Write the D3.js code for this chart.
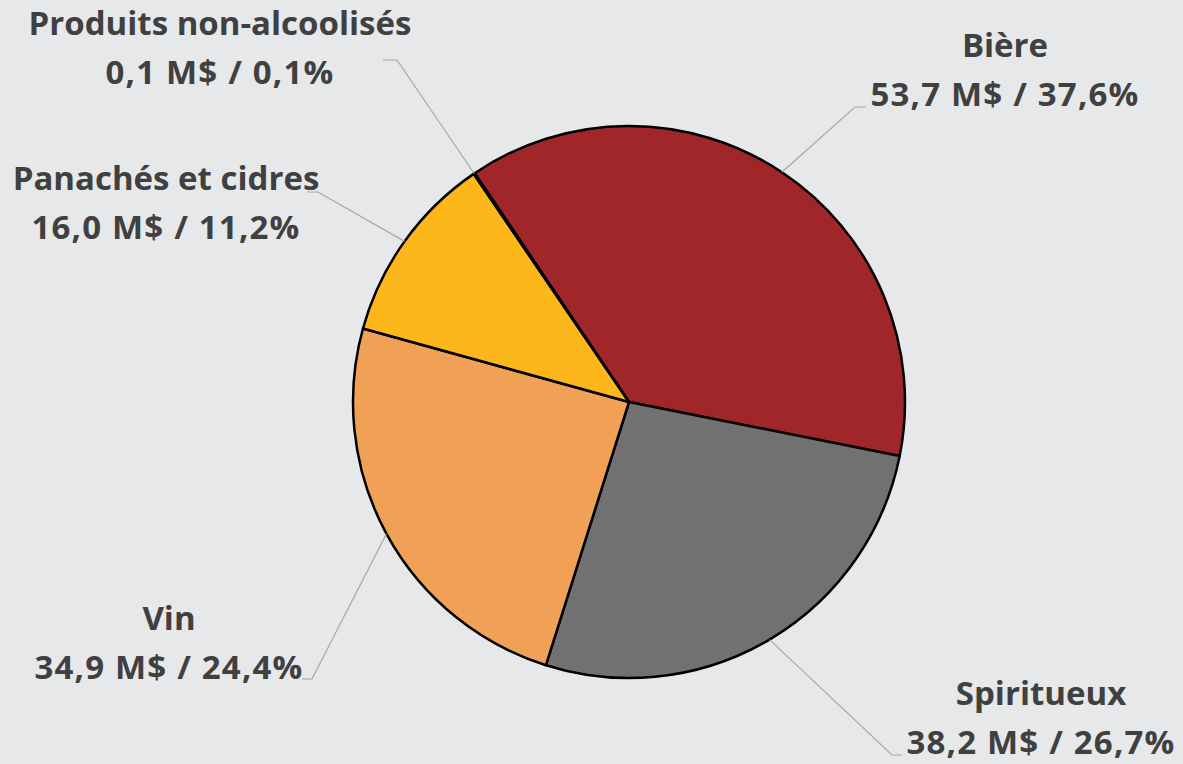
<!DOCTYPE html>
<html>
<head>
<meta charset="utf-8">
<script src="https://cdn.jsdelivr.net/npm/d3@7"></script>
<style>
  body { margin: 0; background: #e7e8ea; }
  svg { display: block; }
  .label { font-family: "Open Sans", sans-serif; font-weight: bold; font-size: 33px; fill: #404040; }
  .label .val { letter-spacing: 1.2px; }
  .leader { fill: none; stroke: #a6a6a6; stroke-width: 1.2; }
</style>
</head>
<body>
<script>
var w = 1183;
var h = 764;

// data
var categories = ["Bière", "Spiritueux", "Vin", "Panachés et cidres", "Produits non-alcoolisés"];
var values = [53.7, 38.2, 34.9, 16.0, 0.1];
var percents = ["37,6%", "26,7%", "24,4%", "11,2%", "0,1%"];
var valueLabels = ["53,7 M$", "38,2 M$", "34,9 M$", "16,0 M$", "0,1 M$"];
var colors = ["#a0262a", "#707170", "#f0a155", "#fdb71a", "#c9c9c9"];

// label layout: centre x, baseline of first line, leader elbow (ex, ey) and end x (tx)
var labelPos = [
    { x: 1005, y: 57,  ex: 855, ey: 107, tx: 866 },
    { x: 1041, y: 705, ex: 892, ey: 755, tx: 902 },
    { x: 169,  y: 630, ex: 312, ey: 679, tx: 302 },
    { x: 166,  y: 190, ex: 318, ey: 192, tx: 307 },
    { x: 220,  y: 35,  ex: 397, ey: 60,  tx: 383 }
];

var cx = 629, cy = 402, radius = 276;
var startDeg = -34;

var dataset = categories.map(function(c, i) {
    return { name: c, value: values[i], pct: percents[i], vlab: valueLabels[i], color: colors[i], pos: labelPos[i] };
});

var pie = d3.pie()
    .sort(null)
    .value(function(d) { return d.value; })
    .startAngle(startDeg * Math.PI / 180)
    .endAngle(startDeg * Math.PI / 180 + 2 * Math.PI);

var arc = d3.arc().innerRadius(0).outerRadius(radius);

var svg = d3.select("body")
    .append("svg")
    .attr("width", w)
    .attr("height", h);

svg.append("rect").attr("width", w).attr("height", h).attr("fill", "#e7e8ea");

var arcs = pie(dataset);

var g = svg.append("g").attr("transform", "translate(" + cx + "," + cy + ")");

// slices
g.selectAll("path.slice")
    .data(arcs)
    .enter()
    .append("path")
    .attr("class", "slice")
    .attr("d", arc)
    .attr("fill", function(d) { return d.data.color; })
    .attr("stroke", "#000")
    .attr("stroke-width", 2.5)
    .attr("stroke-linejoin", "round");

// leader lines
svg.selectAll("polyline.leader")
    .data(arcs)
    .enter()
    .append("polyline")
    .attr("class", "leader")
    .attr("points", function(d) {
        var a = (d.startAngle + d.endAngle) / 2;
        var px = cx + radius * Math.sin(a);
        var py = cy - radius * Math.cos(a);
        var p = d.data.pos;
        return [[px, py], [p.ex, p.ey], [p.tx, p.ey]].map(function(q) { return q.join(","); }).join(" ");
    });

// labels
var labels = svg.selectAll("text.label")
    .data(arcs)
    .enter()
    .append("text")
    .attr("class", "label")
    .attr("text-anchor", "middle")
    .attr("x", function(d) { return d.data.pos.x; })
    .attr("y", function(d) { return d.data.pos.y; });

labels.append("tspan")
    .attr("x", function(d) { return d.data.pos.x; })
    .text(function(d) { return d.data.name; });

labels.append("tspan")
    .attr("class", "val")
    .attr("x", function(d) { return d.data.pos.x; })
    .attr("dy", 49)
    .text(function(d) { return d.data.vlab + " / " + d.data.pct; });
</script>
</body>
</html>
